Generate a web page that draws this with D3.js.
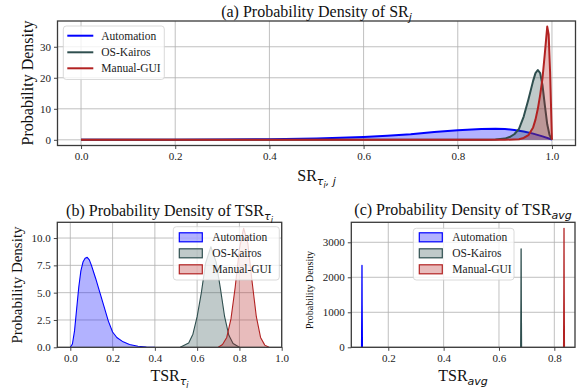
<!DOCTYPE html>
<html>
<head>
<meta charset="utf-8">
<script src="https://cdn.jsdelivr.net/npm/d3@7/dist/d3.min.js"></script>
<style>
  body { margin: 0; background: #fff; }
  svg { display: block; }
</style>
</head>
<body>
<script>
const series = ['Automation', 'OS-Kairos', 'Manual-GUI'];
const colors = ['#0000ff', '#2f4f4f', '#b22222'];

// (a) density of SR_j
const srAutoX = [0, 0.1, 0.2, 0.3, 0.4, 0.5, 0.55, 0.6, 0.65, 0.7, 0.75, 0.8, 0.85, 0.88, 0.9, 0.92, 0.94, 0.96, 0.98, 1.0];
const srAutoY = [0, 0.01, 0.03, 0.08, 0.2, 0.45, 0.65, 0.9, 1.3, 1.8, 2.5, 3.1, 3.5, 3.6, 3.5, 3.2, 2.7, 2.0, 1.1, 0.1];
const srKairosX = [0, 0.86, 0.88, 0.9, 0.91, 0.92, 0.93, 0.94, 0.95, 0.96, 0.965, 0.97, 0.975, 0.98, 0.985, 0.99, 0.995, 1.0];
const srKairosY = [0, 0, 0.1, 0.4, 0.9, 1.8, 3.5, 7.5, 13, 19, 21.5, 22.5, 21.5, 17.5, 11, 5, 1.5, 0];
const srManualX = [0, 0.9, 0.93, 0.94, 0.95, 0.96, 0.965, 0.97, 0.975, 0.98, 0.985, 0.99, 0.993, 0.996, 1.0];
const srManualY = [0, 0, 0.2, 0.6, 1.5, 4, 6.5, 10, 14.5, 20, 28, 36.5, 34, 22, 0];

// (b) density of TSR_tau_i
const tsrAutoX = [0, 0.01, 0.02, 0.03, 0.04, 0.05, 0.06, 0.07, 0.08, 0.09, 0.1, 0.12, 0.14, 0.16, 0.18, 0.2, 0.22, 0.25, 0.28, 0.32, 0.36, 0.4];
const tsrAutoY = [0, 0.3, 1.5, 3.5, 5.5, 7.0, 7.8, 8.15, 8.23, 8.0, 7.5, 6.3, 5.0, 3.7, 2.4, 1.4, 0.9, 0.5, 0.25, 0.1, 0.03, 0];
const tsrKairosX = [0.52, 0.56, 0.58, 0.6, 0.62, 0.64, 0.665, 0.69, 0.71, 0.73, 0.75, 0.77, 0.8];
const tsrKairosY = [0, 0.4, 1.2, 2.8, 5.0, 7.7, 9.2, 7.8, 5.4, 2.8, 1.1, 0.35, 0];
const tsrManualX = [0.7, 0.72, 0.74, 0.76, 0.78, 0.8, 0.82, 0.84, 0.86, 0.88, 0.9, 0.92, 0.94];
const tsrManualY = [0, 0.25, 0.9, 2.6, 5.5, 9.0, 10.9, 9.5, 6.0, 2.8, 0.9, 0.2, 0];

// (c) density of TSR_avg (very narrow spikes)
const avgAutoX = [0.1035, 0.1045, 0.105, 0.1055, 0.1065];
const avgAutoY = [0, 1200, 2340, 1200, 0];
const avgKairosX = [0.6785, 0.6795, 0.68, 0.6805, 0.6815];
const avgKairosY = [0, 1400, 2810, 1400, 0];
const avgManualX = [0.8335, 0.8345, 0.835, 0.8355, 0.8365];
const avgManualY = [0, 1700, 3400, 1700, 0];

const xTicksA = [0, 0.2, 0.4, 0.6, 0.8, 1.0];
const yTicksA = [0, 10, 20, 30];
const xTicksB = [0, 0.2, 0.4, 0.6, 0.8, 1.0];
const yTicksB = [0, 2.5, 5, 7.5, 10];
const xTicksC = [0.2, 0.4, 0.6, 0.8];
const yTicksC = [0, 1000, 2000, 3000];

const serif = '"Liberation Serif", "Times New Roman", serif';
const mathFont = '"DejaVu Sans", sans-serif';

const svg = d3.select('body')
  .append('svg')
  .attr('width', 584)
  .attr('height', 392)
  .style('font-family', serif);

function zip(xs, ys) {
  return xs.map((x, i) => [x, ys[i]]);
}

function panel(cfg) {
  const x = d3.scaleLinear().domain(cfg.xDomain).range([cfg.left, cfg.right]);
  const y = d3.scaleLinear().domain(cfg.yDomain).range([cfg.bottom, cfg.top]);
  const g = svg.append('g');

  // grid
  g.append('g')
    .selectAll('line')
    .data(cfg.xTicks)
    .join('line')
      .attr('x1', d => x(d)).attr('x2', d => x(d))
      .attr('y1', cfg.top).attr('y2', cfg.bottom)
      .attr('stroke', '#b0b0b0').attr('stroke-width', 0.8);
  g.append('g')
    .selectAll('line')
    .data(cfg.yTicks)
    .join('line')
      .attr('x1', cfg.left).attr('x2', cfg.right)
      .attr('y1', d => y(d)).attr('y2', d => y(d))
      .attr('stroke', '#b0b0b0').attr('stroke-width', 0.8);

  const clip = 'clip-' + cfg.id;
  g.append('clipPath').attr('id', clip)
    .append('rect')
      .attr('x', cfg.left).attr('y', cfg.top)
      .attr('width', cfg.right - cfg.left).attr('height', cfg.bottom - cfg.top);

  const area = d3.area().x(d => x(d[0])).y0(y(0)).y1(d => y(d[1]));
  const line = d3.line().x(d => x(d[0])).y(d => y(d[1]));

  const plot = g.append('g').attr('clip-path', `url(#${clip})`);
  cfg.curves.forEach((pts, i) => {
    plot.append('path')
      .attr('d', area(pts))
      .attr('fill', colors[i])
      .attr('fill-opacity', 0.3);
    plot.append('path')
      .attr('d', line(pts))
      .attr('fill', 'none')
      .attr('stroke', colors[i])
      .attr('stroke-width', cfg.lineWidth)
      .attr('stroke-linejoin', 'round');
  });

  // axes
  const xAxis = g.append('g')
    .attr('transform', `translate(0,${cfg.bottom})`)
    .call(d3.axisBottom(x).tickValues(cfg.xTicks).tickFormat(cfg.xFormat).tickSize(3.5).tickPadding(3));
  const yAxis = g.append('g')
    .attr('transform', `translate(${cfg.left},0)`)
    .call(d3.axisLeft(y).tickValues(cfg.yTicks).tickFormat(cfg.yFormat).tickSize(3.5).tickPadding(3));
  [xAxis, yAxis].forEach(a => {
    a.select('.domain').remove();
    a.selectAll('line').attr('stroke', '#333').attr('stroke-width', 0.9);
    a.selectAll('text')
      .attr('fill', '#222')
      .style('font-family', serif)
      .style('font-size', '11px');
  });

  g.append('rect')
    .attr('x', cfg.left).attr('y', cfg.top)
    .attr('width', cfg.right - cfg.left).attr('height', cfg.bottom - cfg.top)
    .attr('fill', 'none')
    .attr('stroke', '#3a3a3a')
    .attr('stroke-width', 1.3);

  return { g, x, y };
}

function mathText(sel, parts) {
  // parts: [text, kind, size, dy]; kind 'm' = italic math font
  parts.forEach(([t, kind, size, dy]) => {
    const ts = sel.append('tspan').text(t);
    if (kind === 'm') ts.style('font-family', mathFont).style('font-style', 'italic');
    if (size) ts.style('font-size', size + 'px');
    if (dy) ts.attr('dy', dy);
  });
  return sel;
}

function label(x, y, size, parts, rotate) {
  const t = svg.append('text')
    .attr('text-anchor', 'middle')
    .attr('fill', '#111')
    .style('font-size', size + 'px');
  if (rotate) t.attr('transform', `translate(${x},${y}) rotate(-90)`);
  else t.attr('x', x).attr('y', y);
  return mathText(t, parts);
}

function legend(x0, y0, w, h, rows, kind) {
  const g = svg.append('g');
  g.append('rect')
    .attr('x', x0).attr('y', y0).attr('width', w).attr('height', h)
    .attr('rx', 3)
    .attr('fill', '#fff').attr('fill-opacity', 0.8)
    .attr('stroke', '#d0d0d0').attr('stroke-width', 0.8);
  const item = g.selectAll('g')
    .data(series)
    .join('g')
      .attr('transform', (d, i) => `translate(${x0 + 4},${rows[i]})`);
  if (kind === 'line') {
    item.append('line')
      .attr('x1', 0).attr('x2', 26)
      .attr('stroke', (d, i) => colors[i])
      .attr('stroke-width', 2);
  } else {
    item.append('rect')
      .attr('x', 2).attr('y', -4.5).attr('width', 23).attr('height', 9)
      .attr('fill', (d, i) => d3.color(colors[i]).copy({ opacity: 0.3 }))
      .attr('stroke', (d, i) => colors[i])
      .attr('stroke-width', 1.2);
  }
  item.append('text')
    .attr('x', kind === 'line' ? 34 : 35)
    .attr('dy', '0.35em')
    .attr('fill', '#222')
    .style('font-size', '11.5px')
    .text(d => d);
}

// (a)
panel({
  id: 'a', left: 57.5, right: 575.5, top: 21, bottom: 145.5,
  xDomain: [-0.05, 1.05], yDomain: [-1.83, 38.3],
  xTicks: xTicksA, yTicks: yTicksA,
  xFormat: d3.format('.1f'), yFormat: d3.format('d'),
  lineWidth: 2,
  curves: [zip(srAutoX, srAutoY), zip(srKairosX, srKairosY), zip(srManualX, srManualY)]
});
legend(63.3, 26, 101, 53.5, [35.7, 52.3, 68.3], 'line');
label(316.5, 17, 16, [['(a) Probability Density of SR'], ['j', 'm', 11, 4]]);
label(316.5, 181, 16, [['SR'], ['τ', 'm', 11, 4], ['i', 'm', 8, 3], [', j', 'm', 11, -3]]);
label(33, 83, 16, [['Probability Density']], true);

// (b)
panel({
  id: 'b', left: 57.3, right: 281.7, top: 222.3, bottom: 347.3,
  xDomain: [-0.0615, 1.0], yDomain: [0, 11.44],
  xTicks: xTicksB, yTicks: yTicksB,
  xFormat: d3.format('.1f'), yFormat: d3.format('.1f'),
  lineWidth: 1.1,
  curves: [zip(tsrAutoX, tsrAutoY), zip(tsrKairosX, tsrKairosY), zip(tsrManualX, tsrManualY)]
});
legend(173.3, 226.7, 106, 53.3, [237.3, 253.3, 269.3], 'patch');
label(169.5, 215.5, 16, [['(b) Probability Density of TSR'], ['τ', 'm', 11, 4], ['i', 'm', 8, 3]]);
label(169.5, 381, 16, [['TSR'], ['τ', 'm', 11, 4], ['i', 'm', 8, 3]]);
label(22, 285, 15, [['Probability Density']], true);

// (c)
panel({
  id: 'c', left: 351.3, right: 575, top: 222.3, bottom: 347.3,
  xDomain: [0.0664, 0.8747], yDomain: [0, 3571],
  xTicks: xTicksC, yTicks: yTicksC,
  xFormat: d3.format('.1f'), yFormat: d3.format('d'),
  lineWidth: 1.3,
  curves: [zip(avgAutoX, avgAutoY), zip(avgKairosX, avgKairosY), zip(avgManualX, avgManualY)]
});
legend(413.3, 228.3, 100.7, 51.7, [237.3, 253.3, 269.3], 'patch');
label(463, 215, 16, [['(c) Probability Density of TSR'], ['avg', 'm', 11, 4]]);
label(463, 381, 16, [['TSR'], ['avg', 'm', 11, 4]]);
label(313, 290, 10, [['Probability Density']], true);
</script>
</body>
</html>
